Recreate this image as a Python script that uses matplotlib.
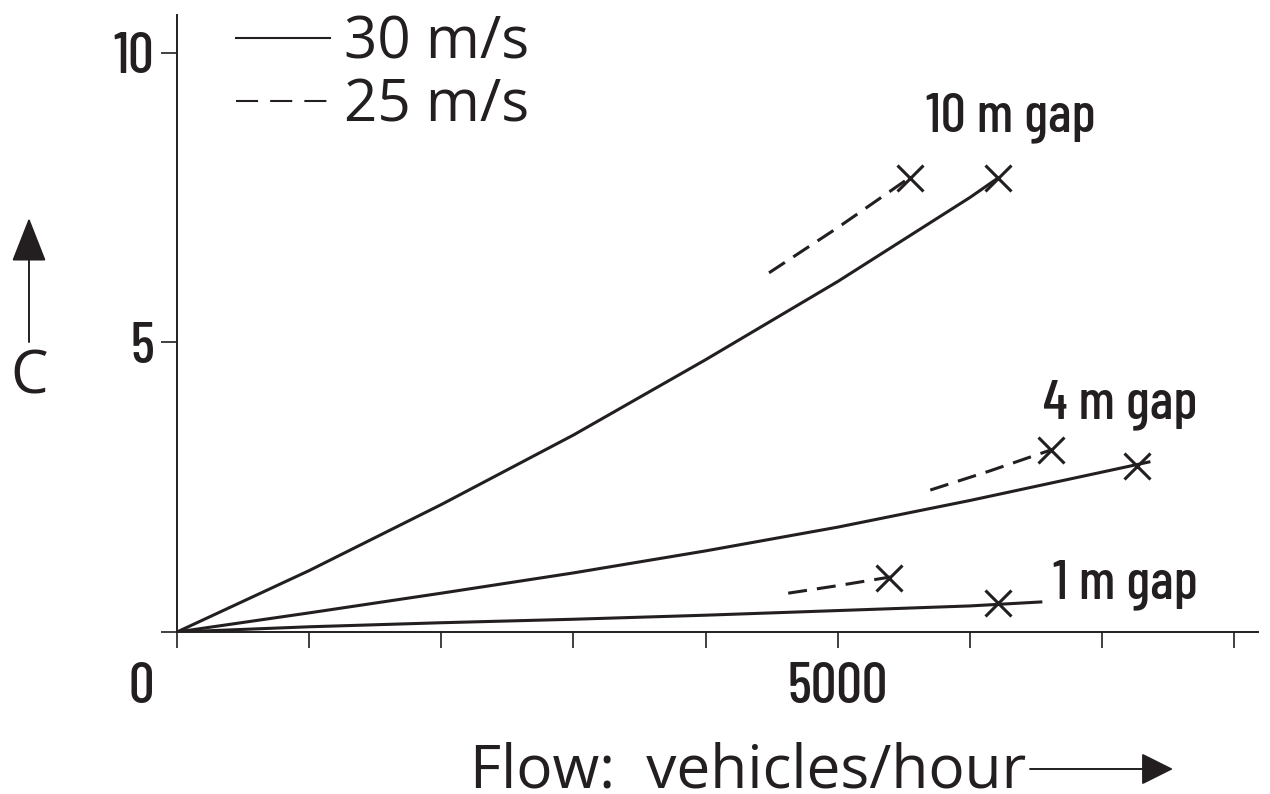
import matplotlib
matplotlib.use("Agg")
import matplotlib.pyplot as plt
from matplotlib.lines import Line2D
from matplotlib.patches import FancyArrowPatch

INK = "#231f20"
COND = ["Barlow Condensed", "DejaVu Sans"]
PLAIN = ["Open Sans", "DejaVu Sans"]

# 30 m/s curves (solid)
gap10_30_x = [0, 1000, 2000, 3000, 4000, 5000, 6000, 6215]
gap10_30_y = [0, 1.06, 2.20, 3.40, 4.70, 6.05, 7.50, 7.84]
gap4_30_x = [0, 1000, 2000, 3000, 4000, 5000, 6000, 7000, 7366]
gap4_30_y = [0, 0.33, 0.67, 1.02, 1.40, 1.81, 2.27, 2.76, 2.94]
gap1_30_x = [0, 1000, 2000, 3000, 4000, 5000, 6000, 6548]
gap1_30_y = [0, 0.09, 0.16, 0.22, 0.29, 0.37, 0.45, 0.52]

# 25 m/s curves (dashed, short pieces)
gap10_25_x = [4480, 5000, 5530]
gap10_25_y = [6.20, 6.98, 7.82]
gap4_25_x = [5700, 6150, 6610]
gap4_25_y = [2.45, 2.78, 3.14]
gap1_25_x = [4625, 5000, 5400]
gap1_25_y = [0.67, 0.80, 0.95]

# end markers
mark30_x = [6215, 7267, 6215]
mark30_y = [7.84, 2.87, 0.50]
mark25_x = [5549, 6616, 5390]
mark25_y = [7.84, 3.14, 0.93]

gap_labels = ["10 m gap", "4 m gap", "1 m gap"]
gap_label_x = [6306, 7139, 7176]
gap_label_y = [8.88, 3.92, 0.81]

x_ticks = [0, 1000, 2000, 3000, 4000, 5000, 6000, 7000, 8000]
x_ticklabels = ["", "", "", "", "", "5000", "", "", ""]
y_ticks = [0, 5, 10]
y_ticklabels = ["", "5", "10"]

fig = plt.figure(figsize=(12.7, 7.94), dpi=100)
W, H = 1270, 794
ax = fig.add_axes([177 / W, (H - 632) / H, (1258 - 177) / W, (632 - 15) / H])
ax.set_xlim(0, 8180)
ax.set_ylim(0, 10.65)

lw = 2.2
dash = (6.2, 3.3)
for xs, ys in [(gap10_30_x, gap10_30_y), (gap4_30_x, gap4_30_y), (gap1_30_x, gap1_30_y)]:
    ax.plot(xs, ys, color=INK, lw=lw, solid_capstyle="butt", solid_joinstyle="round")
for xs, ys in [(gap10_25_x, gap10_25_y), (gap4_25_x, gap4_25_y), (gap1_25_x, gap1_25_y)]:
    ax.plot(xs, ys, color=INK, lw=lw, dashes=dash)
ax.plot(mark30_x, mark30_y, ls="none", marker="x", ms=19, mew=2.2, color=INK)
ax.plot(mark25_x, mark25_y, ls="none", marker="x", ms=19, mew=2.2, color=INK)

for t, x, y in zip(gap_labels, gap_label_x, gap_label_y):
    ax.text(x, y, t, ha="center", va="center", fontsize=40, family=COND,
            fontweight="medium", color=INK)

for s in ["top", "right"]:
    ax.spines[s].set_visible(False)
for s in ["left", "bottom"]:
    ax.spines[s].set_linewidth(1.4)
    ax.spines[s].set_color(INK)

ax.set_xticks(x_ticks)
ax.set_xticklabels(x_ticklabels)
ax.set_yticks(y_ticks)
ax.set_yticklabels(y_ticklabels)
ax.tick_params(axis="both", direction="out", length=11.5, width=1.2, color=INK,
               labelsize=41, labelcolor=INK)
ax.tick_params(axis="x", pad=10)
ax.tick_params(axis="y", pad=5)
for lab in ax.get_xticklabels() + ax.get_yticklabels():
    lab.set_family(COND)
    lab.set_fontweight("medium")
ax.annotate("0", xy=(0, 0), xycoords="data", xytext=(-26, -40), textcoords="offset points",
            ha="center", va="center", fontsize=41, family=COND, fontweight="medium", color=INK)

# axis titles with arrows
fig.text(29 / W, 1 - 378 / H, "C", ha="center", va="center", fontsize=43,
         family=PLAIN, color=INK)
fig.add_artist(FancyArrowPatch(
    (29 / W, 1 - 342 / H), (29 / W, 1 - 218 / H), transform=fig.transFigure,
    arrowstyle="-|>,head_length=1.4,head_width=0.55", mutation_scale=20,
    lw=1.4, color=INK, shrinkA=0, shrinkB=0))
fig.text(1026 / W, 1 - 788 / H, "Flow:  vehicles/hour", ha="right", va="baseline",
         fontsize=43.5, family=PLAIN, color=INK)
fig.add_artist(FancyArrowPatch(
    (1030 / W, 1 - 769 / H), (1173 / W, 1 - 769 / H), transform=fig.transFigure,
    arrowstyle="-|>,head_length=1.0,head_width=0.5", mutation_scale=20,
    lw=1.4, color=INK, shrinkA=0, shrinkB=0))

# legend
handles = [Line2D([], [], color=INK, lw=1.5),
           Line2D([], [], color=INK, lw=1.5, dashes=(10.6, 5.8))]
leg = fig.legend(handles, ["30 m/s", "25 m/s"], loc="upper left",
                 bbox_to_anchor=(207 / W, 1 + 15 / H), frameon=False,
                 prop={"family": PLAIN, "size": 42}, handlelength=1.6,
                 handletextpad=0.25, labelspacing=0.08, borderpad=0)
for t in leg.get_texts():
    t.set_color(INK)

fig.savefig("out.png", dpi=100)
